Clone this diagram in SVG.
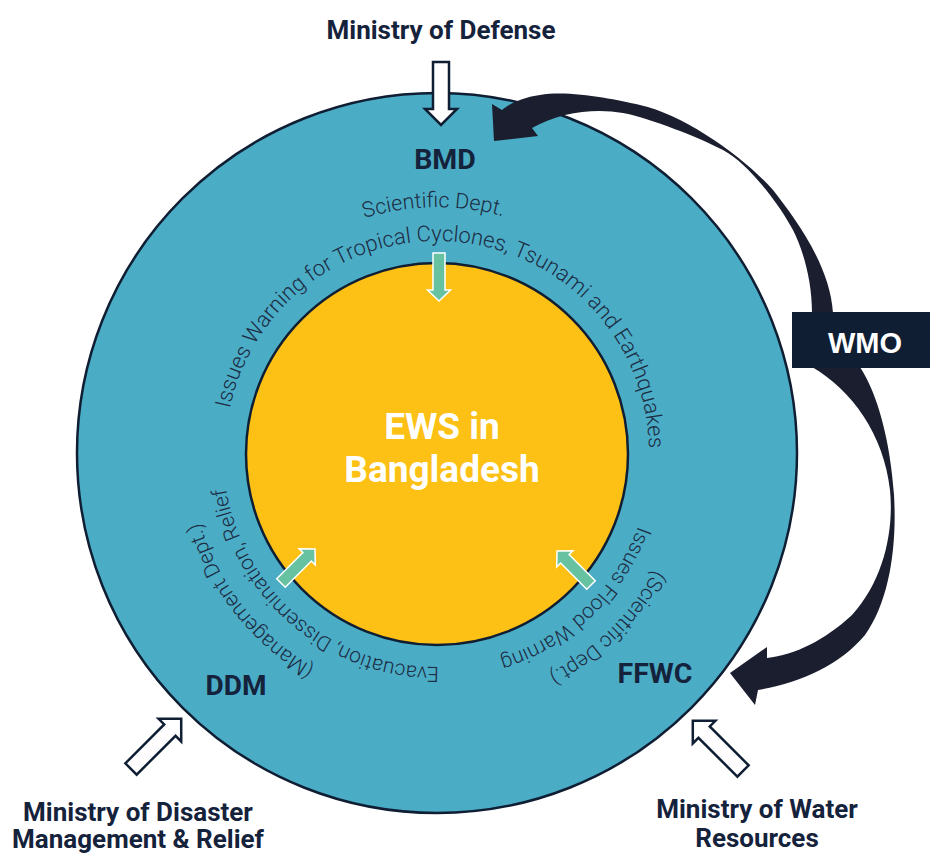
<svg xmlns="http://www.w3.org/2000/svg" width="930" height="854" viewBox="0 0 930 854">
<style>
.lbl{font-family:Roboto,"Liberation Sans",sans-serif;font-weight:700;fill:#15223B;text-anchor:middle}
.arc{font-family:Roboto,"Liberation Sans",sans-serif;font-weight:300;font-size:21px;fill:#1C2D44}
.green{fill:#66C2A0;stroke:#FFFFFF;stroke-width:1.5}
.hollow{fill:#FFFFFF;stroke:#0F1E33;stroke-width:2.5;stroke-linejoin:miter}
.wmoarrow{fill:#1B1E2E}
</style>
<defs>
<path id="pTopIn" d="M225.7,470 A212,212 0 1 1 641.4,509.3"/>
<path id="pTopOut" d="M194.2,413.7 A246,246 0 0 1 678.6,406.9"/>
<path id="pDdmIn" d="M510.2,654.1 A214,214 0 0 1 226.3,415.8"/>
<path id="pDdmOut" d="M429.7,699.9 A247,247 0 0 1 195.1,402.9"/>
<path id="pFfIn" d="M645.1,403 A214,214 0 0 1 376.2,658.2"/>
<path id="pFfOut" d="M683.3,434.5 A247,247 0 0 1 412.5,698.8"/>
</defs>

<g id="outer-circle">
<circle cx="437" cy="453" r="360" fill="#4BACC6" stroke="#0F1E33" stroke-width="2.5"/>
</g>
<g id="inner-circle">
<circle cx="437" cy="454" r="191" fill="#FDC014" stroke="#0F1E33" stroke-width="2.5"/>
<text class="lbl" x="442" y="439" font-size="37" style="fill:#FFFFFF">EWS in</text>
<text class="lbl" x="442" y="482" font-size="37" style="fill:#FFFFFF">Bangladesh</text>
</g>

<g id="bmd">
<text class="lbl" x="445" y="169" font-size="28.5">BMD</text>
<text class="arc" style="font-size:21.5px"><textPath href="#pTopOut" startOffset="50%" text-anchor="middle">Scientific Dept.</textPath></text>
<text class="arc" style="font-size:22px"><textPath href="#pTopIn" startOffset="50%" text-anchor="middle">Issues Warning for Tropical Cyclones, Tsunami and Earthquakes</textPath></text>
</g>
<g id="ddm">
<text class="lbl" x="236" y="695" font-size="28">DDM</text>
<text class="arc"><textPath href="#pDdmIn" startOffset="50%" text-anchor="middle">Evacuation, Dissemination, Relief</textPath></text>
<text class="arc"><textPath href="#pDdmOut" startOffset="50%" text-anchor="middle">(Management Dept.)</textPath></text>
</g>
<g id="ffwc">
<text class="lbl" x="655" y="683" font-size="28.5">FFWC</text>
<text class="arc"><textPath href="#pFfIn" startOffset="50%" text-anchor="middle">Issues Flood Warning</textPath></text>
<text class="arc"><textPath href="#pFfOut" startOffset="50%" text-anchor="middle">(Scientific Dept.)</textPath></text>
</g>

<g id="ministry-defense">
<text class="lbl" x="441" y="39" font-size="26">Ministry of Defense</text>
</g>
<g id="ministry-disaster">
<text class="lbl" x="138" y="821" font-size="26">Ministry of Disaster</text>
<text class="lbl" x="138" y="848" font-size="26">Management &amp; Relief</text>
</g>
<g id="ministry-water">
<text class="lbl" x="757" y="818" font-size="26">Ministry of Water</text>
<text class="lbl" x="757" y="847" font-size="26">Resources</text>
</g>

<g id="connectors">
<path class="green" transform="translate(439,253) rotate(90)" d="M0,-6 L37,-6 L37,-11.5 L48,0 L37,11.5 L37,6 L0,6 Z"/>
<path class="green" transform="translate(281,583) rotate(-45)" d="M0,-6 L37,-6 L37,-11.5 L48,0 L37,11.5 L37,6 L0,6 Z"/>
<path class="green" transform="translate(591,585) rotate(-135)" d="M0,-6 L37,-6 L37,-11.5 L48,0 L37,11.5 L37,6 L0,6 Z"/>
<path class="hollow" transform="translate(441,62) rotate(90)" d="M0,-8 L47,-8 L47,-16 L63,0 L47,16 L47,8 L0,8 Z"/>
<path class="hollow" transform="translate(131,769) rotate(-45)" d="M0,-8 L55,-8 L55,-16 L71,0 L55,16 L55,8 L0,8 Z"/>
<path class="hollow" transform="translate(743,771) rotate(-135)" d="M0,-8 L55,-8 L55,-16 L71,0 L55,16 L55,8 L0,8 Z"/>
<path class="wmoarrow" d="M833,313 C830,265 795,218 773,190 C745,158 685,115 640,105 C615,99.5 570,90 540,95 C525,97 510,103 502,110 L492,104 L494,141 L538,136 L532,128 C560,112 595,108 623,113 C650,118 700,138 723,150 C748,163 780,205 793,230 C803,250 812,280 812,313 Z"/>
<path class="wmoarrow" d="M812,367 C852,390 884,435 890,490 C894,530 884,580 852,615 C825,640 795,655 767,658 L767,647 L730,673 L755,705 L758,690 C800,683 840,665 865,635 C890,600 897,545 894,495 C890,440 878,395 860,367 Z"/>
</g>

<g id="wmo">
<rect x="792" y="312" width="140" height="56" fill="#0F1E33"/>
<text x="865" y="353" font-family="'Liberation Sans',Arial,sans-serif" font-weight="700" font-size="29" fill="#FFFFFF" text-anchor="middle">WMO</text>
</g>
</svg>
